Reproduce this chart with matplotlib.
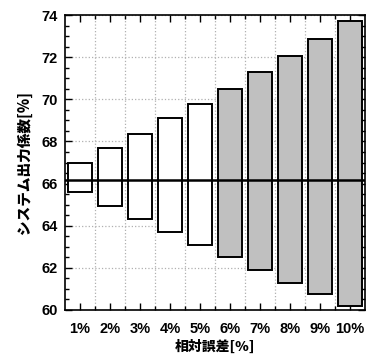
import numpy as np
import matplotlib
matplotlib.use("Agg")
from matplotlib import pyplot as plt
from matplotlib.ticker import MultipleLocator

plt.rcParams['font.family'] = ['Liberation Sans', 'Noto Sans CJK JP', 'DejaVu Sans']

## data
categories = ['1%', '2%', '3%', '4%', '5%', '6%', '7%', '8%', '9%', '10%']
upper = [67.0, 67.7, 68.35, 69.1, 69.8, 70.5, 71.3, 72.07, 72.88, 73.7]
lower = [65.6, 64.95, 64.3, 63.7, 63.1, 62.5, 61.9, 61.3, 60.75, 60.2]
reference = 66.15
bar_colors = ['white'] * 5 + ['#c0c0c0'] * 5

fig = plt.figure(figsize=(3.76, 3.6), dpi=100)
ax = fig.add_axes([0.173, 0.139, 0.798, 0.819])

x = np.arange(1, len(categories) + 1)
heights = np.array(upper) - np.array(lower)
ax.bar(x, heights, bottom=lower, width=0.82, color=bar_colors,
       edgecolor='black', linewidth=1.4, zorder=3)

ax.axhline(reference, color='black', linewidth=1.8, zorder=4)

ax.set_xlim(0.5, 10.5)
ax.set_ylim(60, 74)
ax.set_xticks(x)
ax.set_xticklabels(categories)
ax.set_xticks(np.arange(1.5, 10.5, 1.0), minor=True)
ax.yaxis.set_major_locator(MultipleLocator(2))
ax.yaxis.set_minor_locator(MultipleLocator(0.5))

ax.grid(True, which='major', axis='y', color='#b0b0b0', linestyle=':', linewidth=0.9, zorder=0)
ax.grid(True, which='minor', axis='x', color='#b0b0b0', linestyle=':', linewidth=0.9, zorder=0)

ax.tick_params(which='both', direction='in', top=True, right=True, width=1.0)
ax.tick_params(which='major', length=5)
ax.tick_params(which='minor', length=3)
ax.tick_params(axis='x', which='major', pad=9)
ax.tick_params(axis='y', which='major', pad=5)

for lab in ax.get_xticklabels() + ax.get_yticklabels():
    lab.set_fontsize(10.5)
    lab.set_fontweight('bold')

for sp in ax.spines.values():
    sp.set_linewidth(1.2)

ax.set_xlabel('相対誤差[%]', fontsize=10, fontweight='heavy',
              family=['Noto Sans CJK JP', 'DejaVu Sans'], labelpad=2)
ax.set_ylabel('システム出力係数[%]', fontsize=10.5, fontweight='heavy',
              family=['Noto Sans CJK JP', 'DejaVu Sans'], labelpad=7)

fig.savefig('out.png', dpi=100)
